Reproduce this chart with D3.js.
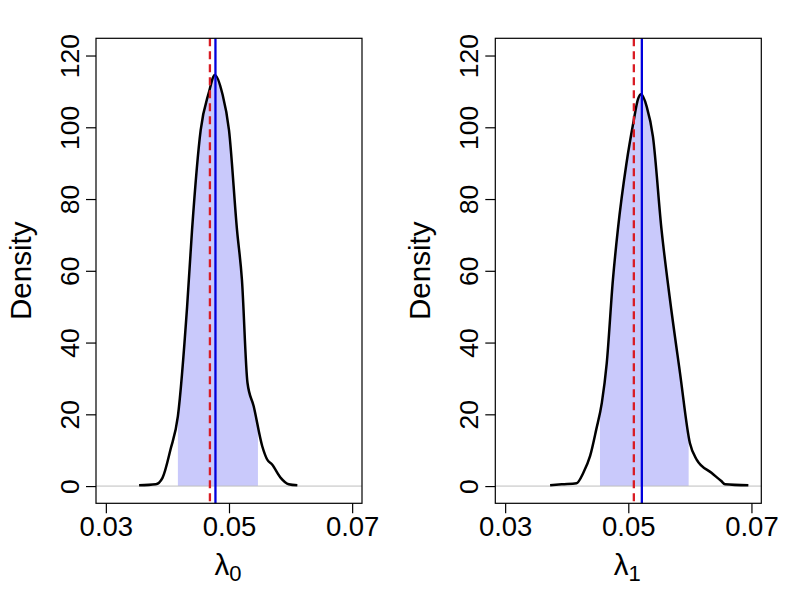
<!DOCTYPE html>
<html>
<head>
<meta charset="utf-8">
<script src="https://cdn.jsdelivr.net/npm/d3@7"></script>
<style>
  body { margin: 0; background: #fff; }
  svg { display: block; font-family: "Liberation Sans", Arial, sans-serif; }
</style>
</head>
<body>
<svg id="chart" width="800" height="600"></svg>
<script>
// ── Data ──
const xTicks = [0.03, 0.05, 0.07];
const yTicks = [0, 20, 40, 60, 80, 100, 120];

// posterior density of lambda_0
const lambda0X = [0.0354, 0.0381, 0.0392, 0.0405, 0.0417, 0.0432, 0.0440, 0.0454, 0.0467, 0.0477,
                  0.0489, 0.0500, 0.0513, 0.0521, 0.0530, 0.0540, 0.0554, 0.0562, 0.0570, 0.0584, 0.0597, 0.0611];
const lambda0Y = [0.2, 0.5, 2.3, 10.2, 19.5, 50.1, 71.4, 99.2, 109.5, 114.6,
                  109.5, 99.2, 71.4, 57.5, 28.8, 22.3, 11.1, 7.4, 6.0, 2.3, 0.5, 0.2];

// posterior density of lambda_1
const lambda1X = [0.0373, 0.0392, 0.0416, 0.0427, 0.0438, 0.0448, 0.0457, 0.0465, 0.0475, 0.0483, 0.0497,
                  0.0508, 0.0516, 0.0521, 0.0530, 0.0540, 0.0554, 0.0567, 0.0584, 0.0600, 0.0611, 0.0635, 0.0651, 0.0657, 0.0695];
const lambda1Y = [0.2, 0.5, 0.8, 3.7, 8.4, 15.8, 23.2, 34.3, 57.5, 71.4, 89.9,
                  101.1, 108.0, 109.2, 105.7, 97.4, 71.4, 52.9, 31.5, 12.0, 7.4, 3.7, 1.4, 0.5, 0.2];

// shaded interval, posterior mean (blue) and true value (red dashed)
const intervals = [[0.0417, 0.0547], [0.0454, 0.0598]];
const meanLines = [0.0478, 0.0522];
const trueLines = [0.0469, 0.0509];
const subscripts = ["0", "1"];

const svg = d3.select("#chart");

const panels = [
    { left: 96, xs: lambda0X, ys: lambda0Y },
    { left: 495.3, xs: lambda1X, ys: lambda1Y }
];
const boxW = 266, plotTop = 38.3, plotBottom = 503.3;

// R style 4% axis extension
function ext(a, b) { const d = (b - a) * 0.04; return [a - d, b + d]; }

panels.forEach((p, i) => {
    const g = svg.append("g").attr("transform", `translate(${p.left},0)`);

    const x = d3.scaleLinear().domain(ext(0.03, 0.07)).range([0, boxW]);
    const y = d3.scaleLinear().domain(ext(0, 120)).range([plotBottom, plotTop]);

    const pts = p.xs.map((v, k) => [v, p.ys[k]]);

    // shaded interval = area under the curve clipped to the interval
    const clipId = "clip" + i;
    g.append("clipPath").attr("id", clipId)
      .append("rect")
        .attr("x", x(intervals[i][0]))
        .attr("width", x(intervals[i][1]) - x(intervals[i][0]))
        .attr("y", plotTop)
        .attr("height", plotBottom - plotTop);

    const area = d3.area()
        .x(d => x(d[0]))
        .y0(y(0))
        .y1(d => y(d[1]))
        .curve(d3.curveMonotoneX);

    g.append("path")
        .datum(pts)
        .attr("clip-path", `url(#${clipId})`)
        .attr("d", area)
        .attr("fill", "#c9c9fb");

    // zero line
    g.append("line")
        .attr("x1", 0).attr("x2", boxW)
        .attr("y1", y(0)).attr("y2", y(0))
        .attr("stroke", "#bebebe").attr("stroke-width", 1);

    const line = d3.line()
        .x(d => x(d[0]))
        .y(d => y(d[1]))
        .curve(d3.curveMonotoneX);

    g.append("path")
        .datum(pts)
        .attr("d", line)
        .attr("fill", "none")
        .attr("stroke", "#000")
        .attr("stroke-width", 2.5)
        .attr("stroke-linejoin", "round");

    g.append("line")
        .attr("x1", x(trueLines[i])).attr("x2", x(trueLines[i]))
        .attr("y1", plotTop).attr("y2", plotBottom)
        .attr("stroke", "#d91c24").attr("stroke-width", 2.3)
        .attr("stroke-dasharray", "8,5");

    g.append("line")
        .attr("x1", x(meanLines[i])).attr("x2", x(meanLines[i]))
        .attr("y1", plotTop).attr("y2", plotBottom)
        .attr("stroke", "#0000dd").attr("stroke-width", 2.3);

    // box
    g.append("rect")
        .attr("x", 0).attr("y", plotTop)
        .attr("width", boxW).attr("height", plotBottom - plotTop)
        .attr("fill", "none").attr("stroke", "#000").attr("stroke-width", 1.2);

    // ── Axes ──
    const xAxis = g.append("g")
        .attr("transform", `translate(0,${plotBottom})`)
        .call(d3.axisBottom(x).tickValues(xTicks).tickSize(10).tickFormat(d3.format(".2f")));
    xAxis.select(".domain").remove();
    xAxis.selectAll("line").attr("stroke", "#000").attr("stroke-width", 1.2);
    xAxis.selectAll("text")
        .attr("y", 33).attr("dy", 0)
        .attr("fill", "#000")
        .style("font-size", "27.5px")
        .style("font-family", "Liberation Sans, Arial, sans-serif");

    const yAxis = g.append("g")
        .call(d3.axisLeft(y).tickValues(yTicks).tickSize(10));
    yAxis.select(".domain").remove();
    yAxis.selectAll("line").attr("stroke", "#000").attr("stroke-width", 1.2);
    yAxis.selectAll("text")
        .attr("transform", "rotate(-90)")
        .attr("x", 0).attr("y", -17).attr("dy", 0)
        .attr("text-anchor", "middle")
        .attr("fill", "#000")
        .style("font-size", "26.5px")
        .style("font-family", "Liberation Sans, Arial, sans-serif");

    // axis titles
    g.append("text")
        .attr("transform", `translate(-65,${(plotTop + plotBottom) / 2}) rotate(-90)`)
        .attr("text-anchor", "middle")
        .style("font-size", "29.5px")
        .text("Density");

    const xl = g.append("text")
        .attr("x", boxW / 2 - 1).attr("y", 575)
        .attr("text-anchor", "middle")
        .style("font-size", "29.5px");
    xl.append("tspan").text("λ");
    xl.append("tspan").attr("dy", 6).style("font-size", "22px").text(subscripts[i]);
});
</script>
</body>
</html>
